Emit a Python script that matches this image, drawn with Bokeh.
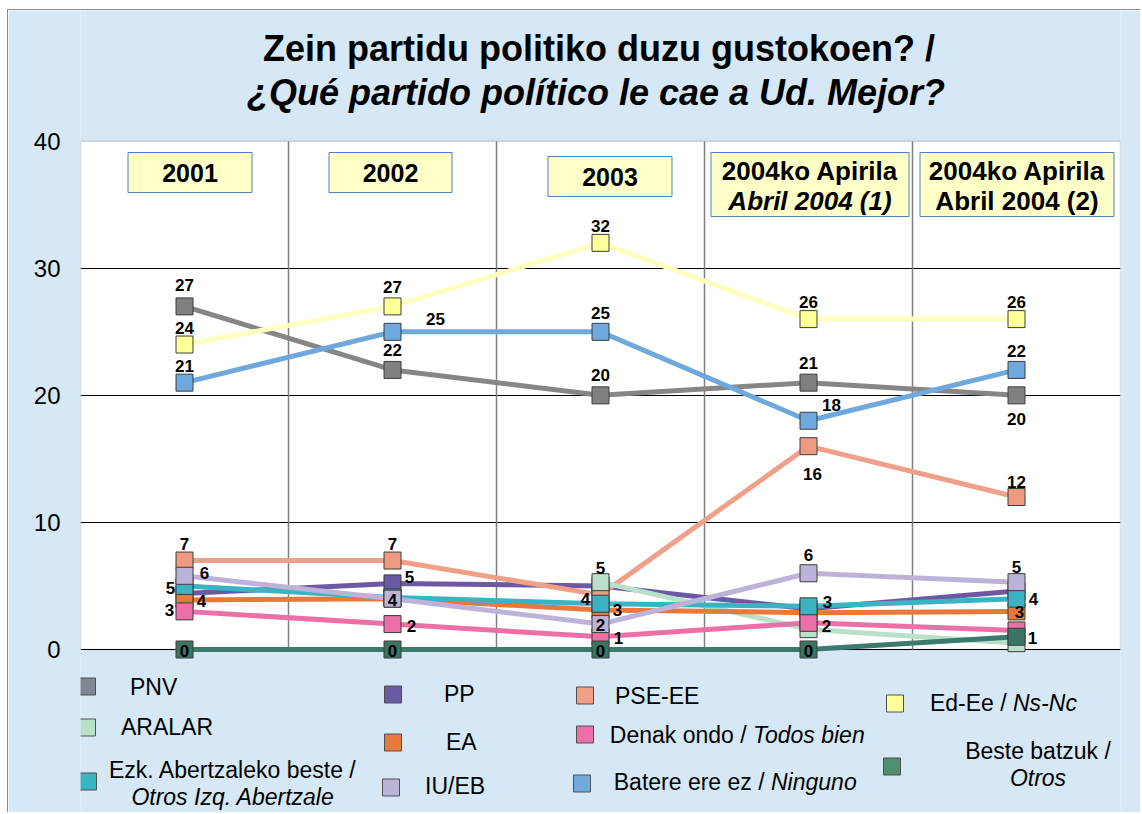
import numpy as np
from bokeh.plotting import figure
from bokeh.models import Range1d, FixedTicker, BoxAnnotation, ColumnDataSource
from bokeh.core.properties import value
from bokeh.embed import file_html
from bokeh.resources import INLINE

# ---------------- data ----------------
categories = ["2001", "2002", "2003", "2004 (1)", "2004 (2)"]
year_line1 = ["2001", "2002", "2003", "2004ko Apirila", "2004ko Apirila"]
year_line2 = ["", "", "", "Abril 2004 (1)", "Abril 2004 (2)"]
year_line2_style = ["", "", "", "bold italic", "bold"]

title_eu = "Zein partidu politiko duzu gustokoen? /"
title_es = "¿Qué partido político le cae a Ud. Mejor?"
y_ticks = [0, 10, 20, 30, 40]

pnv = [27, 22, 20, 21, 20]
pp = [4.4, 5.2, 5.0, 3.2, 4.6]
pse = [7.0, 7.0, 4.3, 16.0, 12.0]
ed_ee = [24, 27, 32, 26, 26]
aralar = [np.nan, np.nan, 5.3, 1.6, 0.5]
ea = [3.9, 4.0, 3.1, 2.9, 3.0]
denak = [3.0, 2.0, 1.0, 2.1, 1.5]
beste = [0, 0, 0, 0, 1.0]
ezk = [5.0, 4.1, 3.6, 3.4, 4.0]
iu = [5.8, 4.0, 2.0, 6.0, 5.3]
batere = [21, 25, 25, 18, 22]

# ---------------- styles / layout ----------------
BG = "#D6E8F5"
FONT = "Liberation Sans"
PPU = 508.3 / 40.0          # pixels per unit (reference)
X0, Y0, CAT_W = 80.5, 649.0, 208.0
OX, OY = 8, 10              # figure origin in page pixels
W, H = 1133, 803


def gx(px):
    return (px - X0) / CAT_W


def gy(py):
    return (Y0 - py) / PPU


# series: name, values, line colour, marker colour, label offsets (dx, dy) per point
series = [
    ("PNV", pnv, "#868686", "#808080",
     [(0, -21), (0, -20), (0, -20), (0, -20), (0, 24)]),
    ("PP", pp, "#6B5AA3", "#6B5AA3",
     [(17, 7), (17, -6), None, None, None]),
    ("PSE-EE", pse, "#F0A088", "#EE9A80",
     [(0, -17), (0, -17), (-15, 4), (4, 28), (0, -15)]),
    ("Ed-Ee", ed_ee, "#FFFFC0", "#FFFF99",
     [(0, -17), (0, -19), (0, -17), (0, -17), (0, -17)]),
    ("ARALAR", aralar, "#B9E1C9", "#B9E1C9",
     [None, None, (0, -14), None, None]),
    ("EA", ea, "#E8783C", "#E8783C",
     [None, None, (17, 0), None, (3, 1)]),
    ("Denak", denak, "#EC70A6", "#EC70A6",
     [(-15, -1), (19, 2), (18, 1), (18, 3), None]),
    ("Beste", beste, "#3D7A6C", "#3A7466",
     [(0, 1), (0, 1), (0, 1), (0, 1), (16, 1)]),
    ("Ezk", ezk, "#3AB3C3", "#3AB3C3",
     [(-14, 2), None, None, (19, -4), (17, 0)]),
    ("IU/EB", iu, "#BDB3D9", "#BDB3D9",
     [(20, -3), (0, 1), (0, 1), (0, -18), (0, -15)]),
    ("Batere", batere, "#6FA8DC", "#6FA8DC",
     [(0, -17), (43, -13), (0, -19), (23, -16), (0, -19)]),
]

# year boxes: centre x, centre y, width, height (reference pixels)
year_boxes = [(190, 172, 124, 40), (390.5, 172, 123, 40), (610, 176, 124, 40),
              (810, 184, 198, 64), (1017, 184, 194, 64)]

# legend: square colour, square position, text parts (text, x, y, align, style)
legend_items = [
    ("#7E8893", (87, 686), [("PNV", 130, 686, "left", "normal")]),
    ("#B9E1C9", (87, 727), [("ARALAR", 121, 726, "left", "normal")]),
    ("#3AB3C3", (88, 781), [("Ezk. Abertzaleko beste /", 233, 769, "center", "normal"),
                            ("Otros Izq. Abertzale", 233, 796, "center", "italic")]),
    ("#6B5AA3", (393, 694), [("PP", 444, 693, "left", "normal")]),
    ("#E8783C", (393, 742), [("EA", 446, 741, "left", "normal")]),
    ("#BDB3D9", (391, 787), [("IU/EB", 425, 785, "left", "normal")]),
    ("#EF9F86", (585, 695), [("PSE-EE", 615, 695, "left", "normal")]),
    ("#EC70A6", (585, 734), [("Denak ondo / ", 753, 734, "right", "normal"),
                             ("Todos bien", 753, 734, "left", "italic")]),
    ("#72A9DD", (582, 783), [("Batere ere ez / ", 771, 781, "right", "normal"),
                             ("Ninguno", 771, 781, "left", "italic")]),
    ("#FFFF99", (895, 703), [("Ed-Ee / ", 1013, 702, "right", "normal"),
                             ("Ns-Nc", 1013, 702, "left", "italic")]),
    ("#4F8E70", (892, 766), [("Beste batzuk /", 1038, 750, "center", "normal"),
                             ("Otros", 1038, 777, "center", "italic")]),
]

# ---------------- figure ----------------
n = len(categories)
xs = [i + 0.5 for i in range(n)]

left_border = int(round(X0 - OX))
right_border = W - left_border - int(round(n * CAT_W))

p = figure(width=W, height=H, x_range=Range1d(0, n),
           y_range=Range1d(gy(OY + H), gy(OY)), output_backend="svg",
           toolbar_location=None, x_axis_location=None, title=None,
           min_border_left=left_border, min_border_right=right_border,
           min_border_top=0, min_border_bottom=0)
p.background_fill_color = BG
p.border_fill_color = BG
p.outline_line_color = None
p.styles = {"margin-left": "7px", "margin-top": "9px",
            "border-left": "1px solid #8a8a8a", "border-top": "1px solid #8a8a8a"}

p.xgrid.visible = False
p.ygrid.ticker = FixedTicker(ticks=[0, 10, 20, 30])
p.ygrid.grid_line_color = "black"
p.ygrid.grid_line_width = 1

ax = p.yaxis[0]
ax.ticker = FixedTicker(ticks=y_ticks)
ax.axis_line_color = None
ax.major_tick_line_color = None
ax.minor_tick_line_color = None
ax.major_label_text_font = FONT
ax.major_label_text_font_size = "24px"
ax.major_label_text_color = "black"
ax.major_label_standoff = 14

# white plot area
p.add_layout(BoxAnnotation(left=0, right=n, bottom=y_ticks[0], top=y_ticks[-1],
                           fill_color="white", fill_alpha=1.0,
                           line_color="#7f7f7f", line_width=1.5, level="image"))

# category separators
seps = list(range(1, n))
p.segment(x0=seps, y0=[y_ticks[0]] * len(seps), x1=seps, y1=[y_ticks[-1]] * len(seps),
          line_color="#808080", line_width=1.5)

# lines
for name, vals, lc, mc, offs in series:
    p.line(xs, vals, line_color=lc, line_width=5)

# markers
for name, vals, lc, mc, offs in series:
    p.scatter(xs, vals, marker="square", size=17, fill_color=mc,
              line_color="#3c3c3c", line_width=1)

# data labels
lx, ly, lt, ldx, ldy = [], [], [], [], []
for name, vals, lc, mc, offs in series:
    for i, v in enumerate(vals):
        if offs[i] is None or np.isnan(v):
            continue
        lx.append(xs[i]); ly.append(v)
        lt.append(str(int(round(v))))
        ldx.append(offs[i][0]); ldy.append(offs[i][1])
lsrc = ColumnDataSource(dict(x=lx, y=ly, t=lt, dx=ldx, dy=ldy))
p.text(x="x", y="y", text="t", x_offset="dx", y_offset="dy", source=lsrc,
       text_font=value(FONT), text_font_style="bold", text_font_size=value("17px"),
       text_color="black", text_align="center", text_baseline="middle")

# year boxes
p.rect(x=[gx(b[0]) for b in year_boxes], y=[gy(b[1]) for b in year_boxes],
       width=[b[2] for b in year_boxes], height=[b[3] for b in year_boxes],
       width_units="screen", height_units="screen",
       fill_color="#FFFFC8", line_color="#4F81BD", line_width=1)
for i, (cx, cy, w, h) in enumerate(year_boxes):
    if year_line2[i]:
        p.text(x=[gx(cx)], y=[gy(cy - 14)], text=[year_line1[i]],
               text_font=value(FONT), text_font_style="bold", text_font_size=value("26px"),
               text_align="center", text_baseline="middle", text_color="black")
        p.text(x=[gx(cx)], y=[gy(cy + 16)], text=[year_line2[i]],
               text_font=value(FONT), text_font_style=year_line2_style[i],
               text_font_size=value("26px"),
               text_align="center", text_baseline="middle", text_color="black")
    else:
        p.text(x=[gx(cx)], y=[gy(cy)], text=[year_line1[i]],
               text_font=value(FONT), text_font_style="bold", text_font_size=value("25px"),
               text_align="center", text_baseline="middle", text_color="black")

# titles
p.text(x=[gx(599)], y=[gy(48)], text=[title_eu], text_font=value(FONT),
       text_font_style="bold", text_font_size=value("36px"), text_align="center",
       text_baseline="middle", text_color="black")
p.text(x=[gx(596)], y=[gy(92)], text=[title_es], text_font=value(FONT),
       text_font_style="bold italic", text_font_size=value("36px"), text_align="center",
       text_baseline="middle", text_color="black")

# legend
for col, (sx, sy), parts in legend_items:
    p.scatter([gx(sx)], [gy(sy)], marker="square", size=17, fill_color=col,
              line_color="#505050", line_width=1)
    for txt, tx, ty, al, st in parts:
        p.text(x=[gx(tx)], y=[gy(ty)], text=[txt], text_font=value(FONT),
               text_font_style=st, text_font_size=value("23px"), text_align=al,
               text_baseline="middle", text_color="black")

open("out.html", "w").write(file_html(p, INLINE))
